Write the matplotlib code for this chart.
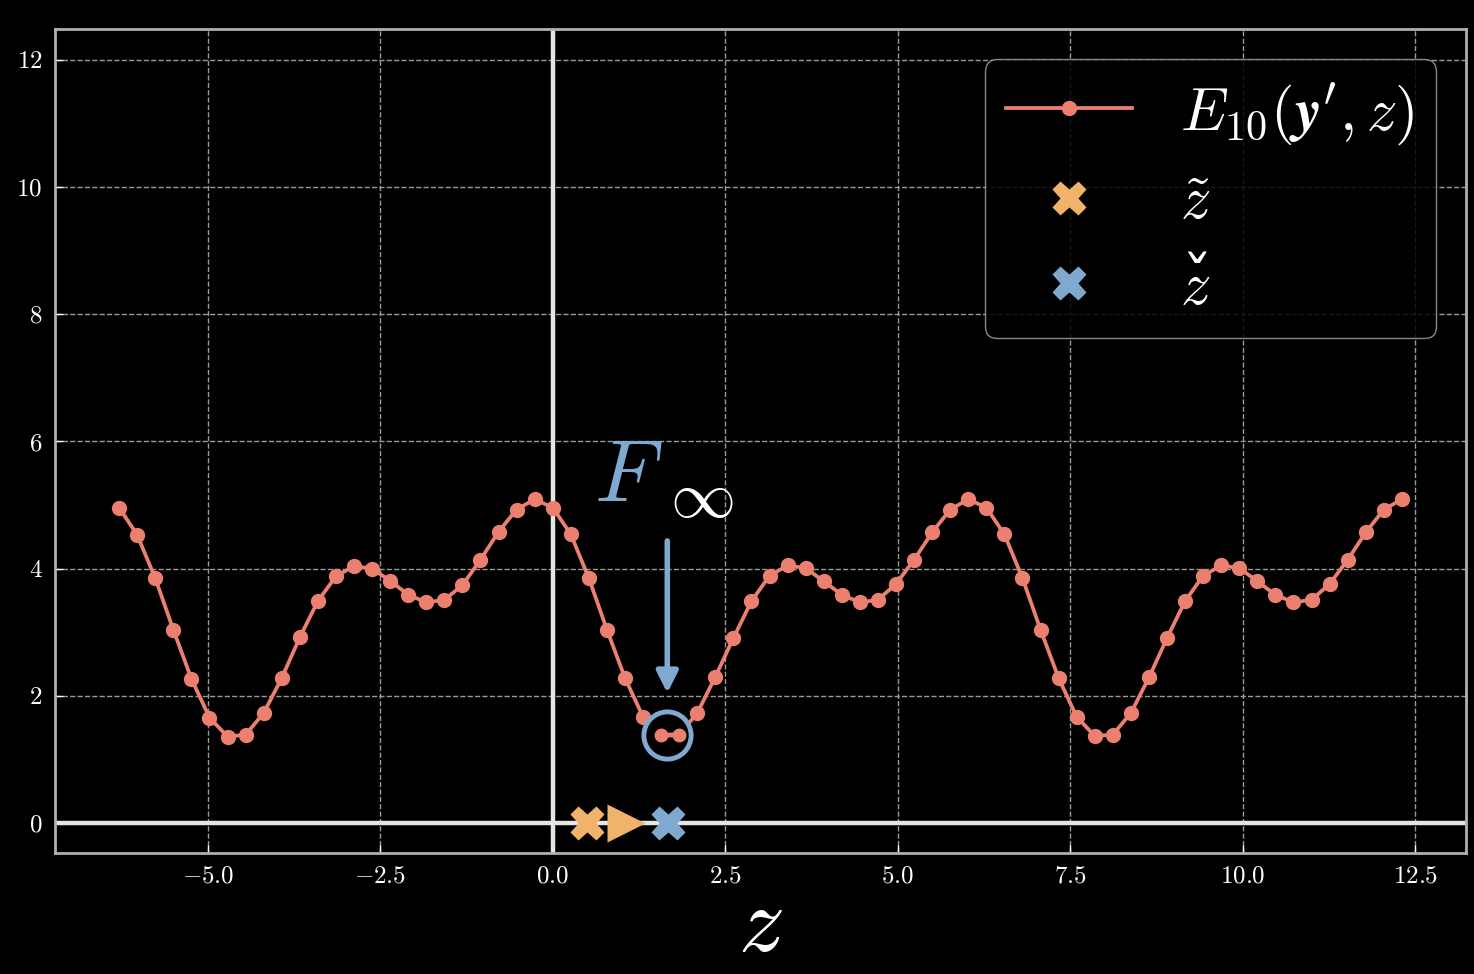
import numpy as np
import matplotlib
matplotlib.use("Agg")
from matplotlib import pyplot as plt

# fonts: computer modern look for ticks and math
plt.rcParams['font.family'] = 'serif'
plt.rcParams['font.serif'] = ['cmr10', 'DejaVu Serif']
plt.rcParams['mathtext.fontset'] = 'cm'
plt.rcParams['axes.formatter.use_mathtext'] = True

# data
# sample grid: k * pi/12 for k = -24 .. 47
k_steps = np.arange(-24, 48)
z = k_steps * np.pi / 12
energy = [
    4.96, 4.53, 3.85, 3.04, 2.27, 1.66, 1.36, 1.39, 1.73, 2.28, 2.92, 3.49,
    3.88, 4.04, 4.00, 3.81, 3.59, 3.47, 3.51, 3.74, 4.14, 4.58, 4.93, 5.09,
    4.96, 4.54, 3.85, 3.04, 2.28, 1.67, 1.38, 1.39, 1.73, 2.30, 2.91, 3.49,
    3.89, 4.05, 4.01, 3.80, 3.59, 3.47, 3.51, 3.76, 4.14, 4.57, 4.93, 5.09,
    4.96, 4.54, 3.85, 3.04, 2.28, 1.67, 1.37, 1.39, 1.73, 2.29, 2.91, 3.49,
    3.89, 4.05, 4.01, 3.80, 3.59, 3.47, 3.51, 3.76, 4.14, 4.57, 4.93, 5.09,
]
z_tilde = 0.50       # orange cross on the axis
z_step = 1.06        # orange triangle
z_check = 1.67       # blue cross
circle_pt = (1.66, 1.38)
arrow_from = 4.48
arrow_to = 2.0

salmon = '#EB8070'
orange = '#F1B36A'
blue = '#80A9D0'

fig = plt.figure(figsize=(14.74, 9.74), dpi=100, facecolor='black')
ax = fig.add_axes([0.0373, 0.1242, 0.9573, 0.8458])
ax.set_facecolor('black')

# zero lines
ax.axhline(0, color='#e6e6e6', lw=3.2, zorder=1.5)
ax.axvline(0, color='#e6e6e6', lw=3.2, zorder=1.5)

# main curve
ax.plot(z, energy, '-o', color=salmon, lw=2.7, ms=10, zorder=3,
        label=r"$E_{10}(\mathbfit{y}',z)$")

# circled minimum
ax.plot(*circle_pt, 'o', ms=34, mfc='black', mec=blue, mew=3.5, zorder=4)
ax.plot(z[30:32], energy[30:32], '-o', color=salmon, lw=3.5, ms=9, zorder=5)

# arrow pointing at the minimum
ax.annotate('', xy=(circle_pt[0], arrow_to), xytext=(circle_pt[0], arrow_from),
            arrowprops=dict(arrowstyle='-|>', color=blue, lw=4,
                            mutation_scale=32), zorder=4)
ax.text(0.60, 5.06, r'$F$', color=blue, fontsize=64, ha='left', va='baseline')
ax.text(1.70, 5.06, r'$\infty$', color='white', fontsize=47, ha='left', va='center')

# points on the axis
ax.plot(z_tilde, 0, 'X', color=orange, ms=25, mec='none', zorder=6, label=r'$\tilde{z}$')
ax.plot(z_step, 0, '>', color=orange, ms=27, mec='none', zorder=6)
ax.plot(z_check, 0, 'X', color=blue, ms=25, mec='none', zorder=6, label=r'$z$')

ax.set_ylim(-0.47, 12.48)
ax.set_yticks([0, 2, 4, 6, 8, 10, 12])
ax.set_xticks([-5, -2.5, 0, 2.5, 5, 7.5, 10, 12.5])
ax.grid(True, color='#9a9a9a', ls='--', lw=1)
ax.set_axisbelow(True)
ax.tick_params(direction='in', colors='white', labelsize=18, length=6, width=1, pad=9)
for s in ax.spines.values():
    s.set_color('#b0b0b0')
    s.set_linewidth(2)

ax.set_xlabel(r'$z$', color='white', fontsize=66, labelpad=0)

leg = ax.legend(loc='upper right', fontsize=43.5, facecolor='black',
                edgecolor='#a0a0a0', framealpha=0.85, handlelength=2.07,
                handletextpad=0.8, borderaxespad=0.5, labelspacing=0.5,
                borderpad=0.36)
for t in leg.get_texts():
    t.set_color('white')

# mathtext has no working \check accent, so put a caron over the last z by hand
fig.canvas.draw()
bb = leg.get_texts()[2].get_window_extent()
W, H = fig.get_size_inches() * fig.dpi
fig.text((bb.x0 + bb.width * 0.55) / W, (bb.y1 - 22) / H, '\u02c7', color='white',
         fontsize=44, family='DejaVu Serif', ha='center', va='center', zorder=10)

fig.savefig('out.png', dpi=100, facecolor='black')
